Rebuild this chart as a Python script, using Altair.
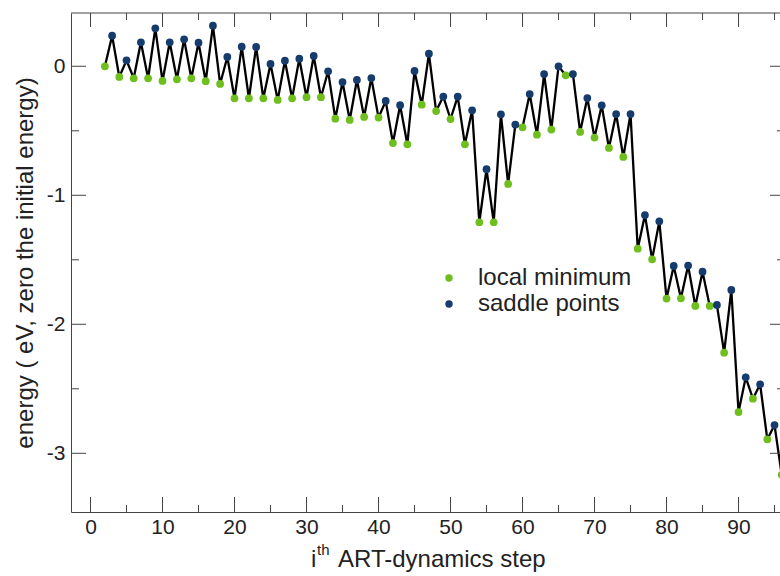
import altair as alt
import pandas as pd

# ---- data ----
steps = list(range(2, 97))
energy = [0.00, 0.237, -0.083, 0.046, -0.093, 0.186, -0.093, 0.294, -0.114, 0.186,
          -0.101, 0.209, -0.093, 0.183, -0.116, 0.315, -0.137, 0.072, -0.248, 0.152,
          -0.248, 0.150, -0.248, 0.018, -0.261, 0.043, -0.248, 0.059, -0.240, 0.080,
          -0.240, -0.039, -0.406, -0.122, -0.416, -0.106, -0.393, -0.091, -0.398, -0.269,
          -0.595, -0.302, -0.605, -0.036, -0.298, 0.098, -0.347, -0.235, -0.409, -0.235,
          -0.605, -0.341, -1.209, -0.798, -1.209, -0.372, -0.912, -0.452, -0.473, -0.215,
          -0.530, -0.060, -0.491, 0.000, -0.070, -0.060, -0.509, -0.246, -0.553, -0.303,
          -0.633, -0.370, -0.703, -0.370, -1.414, -1.153, -1.496, -1.202, -1.801, -1.548,
          -1.799, -1.545, -1.858, -1.592, -1.858, -1.850, -2.220, -1.734, -2.680, -2.411,
          -2.577, -2.465, -2.892, -2.781, -3.168]
point_types = ["local minimum" if s % 2 == 0 else "saddle points" for s in steps]
legend_labels = ["local minimum", "saddle points"]
legend_colors = ["#6EBE1E", "#163C6E"]

x_major = [0, 10, 20, 30, 40, 50, 60, 70, 80, 90]
x_minor = [5, 15, 25, 35, 45, 55, 65, 75, 85, 95]
y_major = [0, -1, -2, -3]
y_minor = [-0.5, -1.5, -2.5]

W, H = 709, 499
AXC = "#444444"
FONT = "Liberation Sans"

df = pd.DataFrame({"step": steps, "energy": energy, "type": point_types})
xs = alt.Scale(domain=[-2.71, 95.76], nice=False, zero=False)
ys = alt.Scale(domain=[-3.455, 0.413], nice=False, zero=False)

AX = alt.Axis(values=x_major, ticks=False, grid=False, title=None,
              labelFontSize=21, labelFont=FONT, labelColor="#222222",
              labelPadding=4, domainColor=AXC, domainWidth=1)
AY = alt.Axis(values=y_major, labelExpr="'' + datum.value", ticks=False,
              grid=False, labelFontSize=21, labelFont=FONT,
              labelColor="#222222", labelPadding=6, domainColor=AXC,
              domainWidth=1,
              title="energy ( eV, zero the initial energy)",
              titleFontSize=24, titleFont=FONT,
              titleFontWeight="normal", titleColor="#222222",
              titleX=-46, titleY=H / 2, titleBaseline="middle",
              titleAngle=270, titleAlign="center")

line = alt.Chart(df).mark_line(color="black", strokeWidth=2.3).encode(
    x=alt.X("step:Q", scale=xs, axis=AX),
    y=alt.Y("energy:Q", scale=ys, axis=AY),
    order="step:Q",
)

pts = alt.Chart(df).mark_circle(size=60, opacity=1).encode(
    x=alt.X("step:Q", scale=xs, axis=AX),
    y=alt.Y("energy:Q", scale=ys, axis=AY),
    color=alt.Color("type:N",
                    scale=alt.Scale(domain=legend_labels, range=legend_colors),
                    legend=alt.Legend(title=None, orient="none", legendX=366, legendY=253,
                                      labelFontSize=24, labelFont=FONT, labelColor="#222222",
                                      symbolType="circle", symbolSize=55, symbolStrokeWidth=0,
                                      labelOffset=17, rowPadding=2, padding=0)),
)

dxM = pd.DataFrame({"v": x_major})
dxm = pd.DataFrame({"v": x_minor})
dyM = pd.DataFrame({"v": y_major})
dym = pd.DataFrame({"v": y_minor})

def xticks(d, y0, y1):
    return alt.Chart(d).mark_rule(color=AXC, strokeWidth=1).encode(
        x=alt.X("v:Q", scale=xs, axis=AX), y=alt.value(y0), y2=alt.value(y1))

def yticks(d, x0, x1):
    return alt.Chart(d).mark_rule(color=AXC, strokeWidth=1).encode(
        y=alt.Y("v:Q", scale=ys, axis=AY), x=alt.value(x0), x2=alt.value(x1))

one = pd.DataFrame({"a": [0]})
top_border = alt.Chart(one).mark_rule(color=AXC, strokeWidth=1).encode(
    x=alt.value(0), x2=alt.value(W), y=alt.value(0))

def txt(s, x, y, size):
    return alt.Chart(one).mark_text(align="left", baseline="alphabetic", font=FONT,
                                    fontSize=size, color="#222222").encode(
        x=alt.value(x), y=alt.value(y), text=alt.value(s))

xtitle = txt("i", 240, 554, 24) + txt("th", 246, 542, 15) + txt("ART-dynamics step", 267, 554, 24)

chart = alt.layer(
    line, pts,
    top_border,
    xticks(dxM, H, H - 15), xticks(dxm, H, H - 7),
    xticks(dxM, 0, 14), xticks(dxm, 0, 7),
    yticks(dyM, 0, 15), yticks(dym, 0, 8),
    yticks(dyM, W - 10, W), yticks(dym, W - 3, W),
    xtitle,
).properties(
    width=W, height=H,
    padding={"left": 71, "top": 13, "right": 0, "bottom": 60},
    autosize=alt.AutoSizeParams(type="none"),
).configure_view(strokeWidth=0)

chart.save("out.html", embed_options={"renderer": "svg", "actions": False})
